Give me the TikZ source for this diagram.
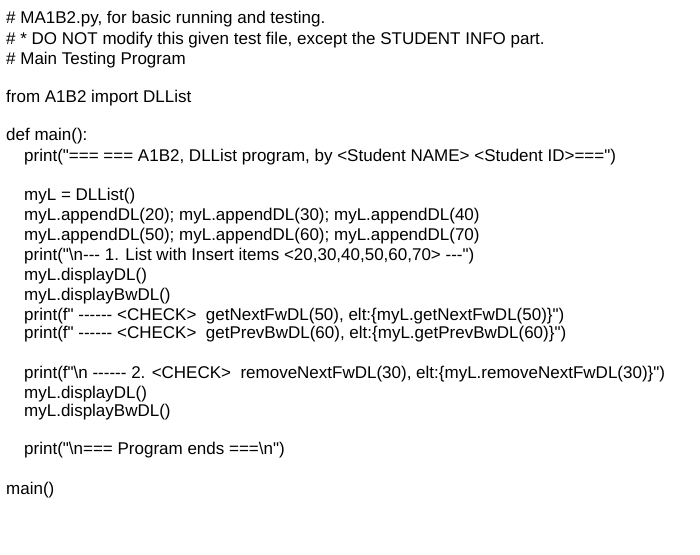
\documentclass[tikz,border=0pt]{standalone}
\usepackage{fontspec}
\setmainfont{Liberation Sans}[Ligatures=TeXOff]
\begin{document}
\begin{tikzpicture}[x=1pt,y=1pt,txt/.style={anchor=west,inner sep=0pt,font=\fontsize{17}{18}\selectfont}]
\useasboundingbox[fill=white] (0,0) rectangle (700,-554);
\node[txt] (l1) at (6,-19) {\# MA1B2.py, for basic running and testing.};
\node[txt] (l2) at (6,-40) {\# * DO NOT modify this given test file, except the STUDENT INFO part.};
\node[txt] (l3) at (6,-60) {\# Main Testing Program};
\node[txt] (l4) at (6,-98) {from A1B2 import DLList};
\node[txt] (l5) at (6,-136) {def main():};
\node[txt] (l6) at (24,-157) {print("=== === A1B2, DLList program, by <Student NAME> <Student ID>===")};
\node[txt] (l7) at (24,-196) {myL = DLList()};
\node[txt] (l8) at (24,-216) {myL.appendDL(20); myL.appendDL(30); myL.appendDL(40)};
\node[txt] (l9) at (24,-236) {myL.appendDL(50); myL.appendDL(60); myL.appendDL(70)};
\node[txt] (l10) at (24,-256) {print("\textbackslash n--- 1. List with Insert items <20,30,40,50,60,70> ---")};
\node[txt] (l11) at (24,-276) {myL.displayDL()};
\node[txt] (l12) at (24,-296) {myL.displayBwDL()};
\node[txt] (l13) at (24,-316) {print(f" ------ <CHECK>\ \ getNextFwDL(50), elt:\{myL.getNextFwDL(50)\}")};
\node[txt] (l14) at (24,-334) {print(f" ------ <CHECK>\ \ getPrevBwDL(60), elt:\{myL.getPrevBwDL(60)\}")};
\node[txt] (l15) at (24,-374) {print(f"\textbackslash n ------ 2. <CHECK>\ \ removeNextFwDL(30), elt:\{myL.removeNextFwDL(30)\}")};
\node[txt] (l16) at (24,-394) {myL.displayDL()};
\node[txt] (l17) at (24,-412) {myL.displayBwDL()};
\node[txt] (l18) at (24,-450) {print("\textbackslash n=== Program ends ===\textbackslash n")};
\node[txt] (l19) at (6,-490) {main()};
\end{tikzpicture}
\end{document}
